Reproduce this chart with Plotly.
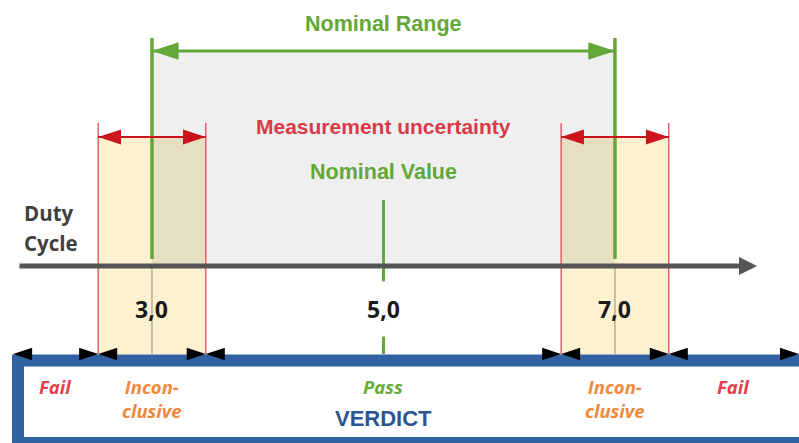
import plotly.graph_objects as go

# ---------------- data ----------------
nominal_min = 3.0
nominal_value = 5.0
nominal_max = 7.0
uncertainty = 0.465
axis_start = 1.842
axis_end = 8.227
verdict_start = 1.80
verdict_end = 8.59
tick_values = [3.0, 5.0, 7.0]
tick_labels = ["3,0", "5,0", "7,0"]
verdict_labels = ["Fail", "Incon-<br>clusive", "Pass", "Incon-<br>clusive", "Fail"]
verdict_colors = ["#e2404c", "#ef8a3c", "#6aab3a", "#ef8a3c", "#e2404c"]
axis_title_lines = ["Duty", "Cycle"]

# ---------------- styling / layout positions (vertical, px from top) ----------------
X_RANGE = [1.687, 8.590]
Y_TITLE = 24
Y_NOM_ARROW = 51
Y_GREEN_TOP = 38
Y_MU_TEXT = 126
Y_RED_TOP = 123
Y_RED_ARROW = 137
Y_NV_TEXT = 172
Y_TICK_TOP = 200
Y_AXIS = 266
Y_LABEL = 309
Y_BOX_TOP = 354
Y_BOX_LINE = 360.5
Y_BOX_BOTTOM = 440
Y_VERDICT1 = 386
Y_VERDICT_WORD = 418

GREEN = "#62a738"
RED_ARROW = "#cc141c"
RED_LINE = "#dc4a5c"
BLUE = "#3163a3"
GRAY_AXIS = "#555555"

HEAD_FONT = "Liberation Sans, Arial, sans-serif"
DIN_FONT = "Open Sans, sans-serif"

u = uncertainty
bounds = [verdict_start, nominal_min - u, nominal_min + u, nominal_max - u, nominal_max + u, verdict_end]

shapes = []
# gray nominal area
shapes.append(dict(type="rect", xref="x", yref="y", x0=nominal_min, x1=nominal_max,
                   y0=Y_NOM_ARROW, y1=Y_AXIS, fillcolor="#efefef", line_width=0, layer="below"))
# yellow uncertainty bands
for c in (nominal_min, nominal_max):
    shapes.append(dict(type="rect", xref="x", yref="y", x0=c - u, x1=c + u,
                       y0=Y_RED_ARROW, y1=Y_BOX_TOP, fillcolor="#fdf1cf", line_width=0, layer="below"))
# overlap of band with nominal area
shapes.append(dict(type="rect", xref="x", yref="y", x0=nominal_min, x1=nominal_min + u,
                   y0=Y_RED_ARROW, y1=Y_AXIS, fillcolor="#e7dfc2", line_width=0, layer="below"))
shapes.append(dict(type="rect", xref="x", yref="y", x0=nominal_max - u, x1=nominal_max,
                   y0=Y_RED_ARROW, y1=Y_AXIS, fillcolor="#e7dfc2", line_width=0, layer="below"))
# thin gray lines under limits
for c in (nominal_min, nominal_max):
    shapes.append(dict(type="line", xref="x", yref="y", x0=c, x1=c, y0=Y_AXIS, y1=Y_BOX_TOP,
                       line=dict(color="#8f8a7c", width=1), layer="below"))
# red uncertainty limit lines
for b in bounds[1:5]:
    shapes.append(dict(type="line", xref="x", yref="y", x0=b, x1=b, y0=Y_RED_TOP, y1=Y_BOX_TOP,
                       line=dict(color=RED_LINE, width=1.3), layer="below"))
# green nominal limits
for c in (nominal_min, nominal_max):
    shapes.append(dict(type="line", xref="x", yref="y", x0=c, x1=c, y0=Y_GREEN_TOP, y1=Y_AXIS - 7,
                       line=dict(color=GREEN, width=3.5), layer="below"))
# nominal value tick
shapes.append(dict(type="line", xref="x", yref="y", x0=nominal_value, x1=nominal_value,
                   y0=Y_TICK_TOP, y1=Y_BOX_TOP, line=dict(color=GREEN, width=3), layer="below"))
# verdict box
shapes.append(dict(type="rect", xref="paper", yref="y", x0=18 / 799, x1=1.02,
                   y0=Y_BOX_LINE, y1=Y_BOX_BOTTOM + 3, fillcolor="white",
                   line=dict(color=BLUE, width=12), layer="below"))

fig = go.Figure()

# nominal range arrow shaft + heads
fig.add_trace(go.Scatter(x=[nominal_min, nominal_max], y=[Y_NOM_ARROW, Y_NOM_ARROW], mode="lines",
                         line=dict(color=GREEN, width=3), hoverinfo="skip"))
fig.add_trace(go.Scatter(x=[nominal_min, nominal_max], y=[Y_NOM_ARROW, Y_NOM_ARROW], mode="markers",
                         marker=dict(symbol="arrow", size=28, angle=[-90, 90], color=GREEN,
                                     line=dict(width=0)), hoverinfo="skip"))
# uncertainty arrows
for c in (nominal_min, nominal_max):
    fig.add_trace(go.Scatter(x=[c - u, c + u], y=[Y_RED_ARROW, Y_RED_ARROW], mode="lines",
                             line=dict(color=RED_ARROW, width=2), hoverinfo="skip"))
    fig.add_trace(go.Scatter(x=[c - u, c + u], y=[Y_RED_ARROW, Y_RED_ARROW], mode="markers",
                             marker=dict(symbol="arrow", size=24, angle=[-90, 90], color=RED_ARROW,
                                         line=dict(width=0)), hoverinfo="skip"))
# verdict segment arrowheads
fig.add_trace(go.Scatter(x=bounds[1:], y=[Y_BOX_TOP] * 5, mode="markers",
                         marker=dict(symbol="arrow", size=20, angle=90, color="black",
                                     line=dict(width=0)), hoverinfo="skip", cliponaxis=False))
fig.add_trace(go.Scatter(x=bounds[:-1], y=[Y_BOX_TOP] * 5, mode="markers",
                         marker=dict(symbol="arrow", size=20, angle=-90, color="black",
                                     line=dict(width=0)), hoverinfo="skip", cliponaxis=False))

annotations = []
# duty cycle axis arrow
annotations.append(dict(x=axis_end, y=Y_AXIS, ax=axis_start, ay=Y_AXIS, xref="x", yref="y",
                        axref="x", ayref="y", text="", showarrow=True, arrowhead=2,
                        arrowwidth=5, arrowsize=0.72, arrowcolor=GRAY_AXIS))

def txt(x, y, s, color, size, family, xanchor="center", italic=False, **kw):
    d = dict(x=x, y=y, xref="x", yref="y", text=s, showarrow=False, xanchor=xanchor,
             yanchor="middle", font=dict(color=color, size=size, family=family, weight="bold",
                                         style="italic" if italic else "normal"))
    d.update(kw)
    return d

annotations.append(txt(nominal_value, Y_TITLE, "Nominal Range", GREEN, 21.5, HEAD_FONT))
annotations.append(txt(nominal_value, Y_MU_TEXT, "Measurement uncertainty", "#d93a47", 21, HEAD_FONT))
annotations.append(txt(nominal_value, Y_NV_TEXT, "Nominal Value", GREEN, 21.5, HEAD_FONT))
annotations.append(txt(axis_start + 0.035, 213, axis_title_lines[0], "#3f3f3f", 20.5, DIN_FONT, xanchor="left"))
annotations.append(txt(axis_start + 0.035, 243, axis_title_lines[1], "#3f3f3f", 20.5, DIN_FONT, xanchor="left"))

for v, lab in zip(tick_values, tick_labels):
    if v == nominal_value:
        annotations.append(txt(v, Y_LABEL, lab, "#1a1a1a", 23, DIN_FONT, bgcolor="white", borderpad=11))
    else:
        annotations.append(txt(v, Y_LABEL, lab, "#1a1a1a", 23, DIN_FONT))

for i, (lab, col) in enumerate(zip(verdict_labels, verdict_colors)):
    xm = (bounds[i] + bounds[i + 1]) / 2
    yy = Y_VERDICT1 + 12 if "<br>" in lab else Y_VERDICT1
    annotations.append(txt(xm, yy, lab, col, 18.5, DIN_FONT, italic=True))

annotations.append(txt(nominal_value, Y_VERDICT_WORD, "VERDICT", "#2b5592", 22, HEAD_FONT))

fig.update_layout(
    width=799, height=443, margin=dict(l=0, r=0, t=0, b=0),
    paper_bgcolor="white", plot_bgcolor="white", showlegend=False,
    xaxis=dict(range=X_RANGE, visible=False, fixedrange=True),
    yaxis=dict(range=[443, 0], visible=False, fixedrange=True),
    shapes=shapes, annotations=annotations,
)

fig.write_html("out.html", config={"displayModeBar": False},
               post_script="document.body.style.margin='0';document.body.style.overflow='hidden';")
